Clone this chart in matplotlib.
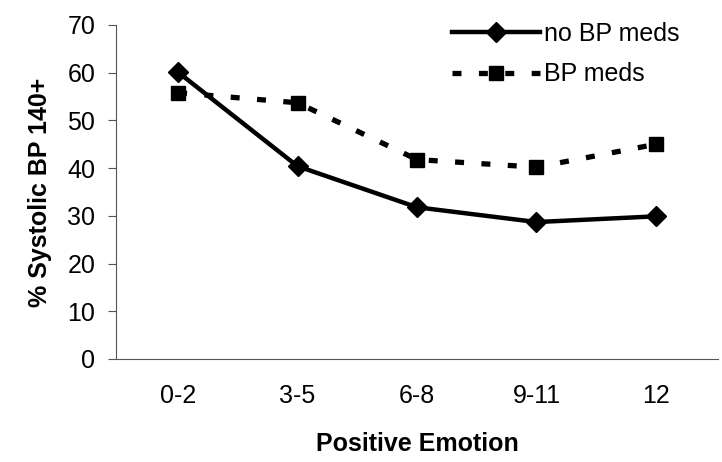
import matplotlib
matplotlib.use("Agg")
import matplotlib.pyplot as plt

# Data
categories = ['0-2', '3-5', '6-8', '9-11', '12']
no_bp_meds = [60.1, 40.4, 31.8, 28.7, 29.9]
bp_meds = [55.8, 53.7, 41.8, 40.2, 45.0]

plt.rcParams['font.family'] = ['Liberation Sans', 'DejaVu Sans']
FS = 18

fig = plt.figure(figsize=(7.22, 4.62), dpi=100)
ax = fig.add_axes([116 / 722, 1 - 359 / 462, (718 - 116) / 722, (359 - 25) / 462])

x = range(len(categories))
ax.plot(x, no_bp_meds, color='black', lw=3.2, marker='D', ms=10,
        label='no BP meds', solid_joinstyle='miter')
ax.plot(x, bp_meds, color='black', lw=3.8, marker='s', ms=10.5,
        dashes=(1.7, 3.3), dash_capstyle='butt', label='BP meds')

ax.set_xlim(-0.52, 4.52)
ax.set_ylim(0, 70)
ax.set_yticks(range(0, 71, 10))
ax.set_xticks(list(x))
ax.set_xticklabels(categories)

for s in ['top', 'right']:
    ax.spines[s].set_visible(False)
ax.spines['left'].set_color('#555555')
ax.spines['bottom'].set_color('#555555')
ax.tick_params(axis='y', direction='out', length=6, width=0.8, color='#555555',
               labelsize=FS, pad=9)
ax.tick_params(axis='x', length=0, labelsize=FS, pad=18)

ax.set_ylabel('% Systolic BP 140+', fontsize=FS, fontweight='bold', labelpad=11)
ax.set_xlabel('Positive Emotion', fontsize=FS, fontweight='bold', labelpad=17)

ax.legend(loc='upper left', bbox_to_anchor=(452 / 722, 1 - 22 / 462),
          bbox_transform=fig.transFigure, frameon=False, fontsize=FS,
          handlelength=3.5, handletextpad=0.2, labelspacing=0.65,
          borderpad=0, borderaxespad=0)

plt.savefig('out.png', dpi=100)
